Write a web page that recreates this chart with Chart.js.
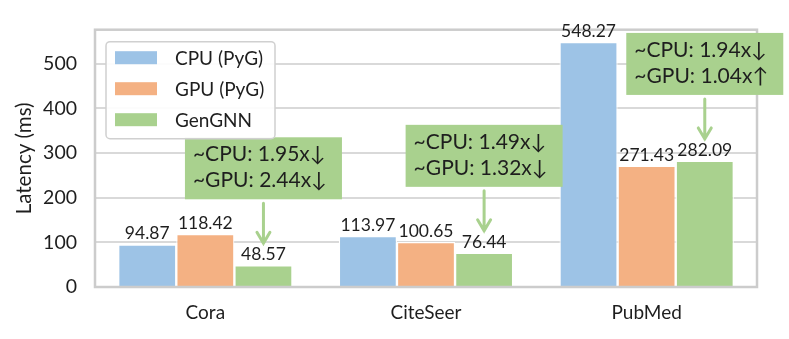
<!DOCTYPE html>
<html lang="en">
<head>
<meta charset="UTF-8">
<title>Latency</title>
<script src="https://cdn.jsdelivr.net/npm/chart.js"></script>
<style>
  html, body { margin: 0; padding: 0; background: #fff; }
  #wrap { width: 789px; height: 339px; position: relative; }
</style>
</head>
<body>
<div id="wrap"><canvas id="chart"></canvas></div>
<script>
// data
const categories = ['Cora', 'CiteSeer', 'PubMed'];
const seriesNames = ['CPU (PyG)', 'GPU (PyG)', 'GenGNN'];
const cpuValues = [94.87, 113.97, 548.27];
const gpuValues = [118.42, 100.65, 271.43];
const genValues = [48.57, 76.44, 282.09];
const yTicks = [0, 100, 200, 300, 400, 500];
const yMax = 575.7;
// speedup notes, one per category, pointing at the GenGNN bar
const speedupNotes = [
  ['~CPU: 1.95x\u2193', '~GPU: 2.44x\u2193'],
  ['~CPU: 1.49x\u2193', '~GPU: 1.32x\u2193'],
  ['~CPU: 1.94x\u2193', '~GPU: 1.04x\u2191']
];

const colors = ['#9dc3e6', '#f4b183', '#a9d18e'];
const textColor = '#1e1e1e';
const fontFamily = 'Lato, "Open Sans", sans-serif';

// frame around the plot
const framePlugin = {
  id: 'frame',
  afterDatasetsDraw(chart) {
    const { ctx, chartArea: a } = chart;
    ctx.save();
    ctx.strokeStyle = '#cccccc';
    ctx.lineWidth = 2.5;
    ctx.strokeRect(a.left, a.top, a.right - a.left, a.bottom - a.top);
    ctx.restore();
  }
};

// value labels on top of bars
const labelPlugin = {
  id: 'barLabels',
  afterDatasetsDraw(chart) {
    const { ctx } = chart;
    ctx.save();
    ctx.font = '17.5px ' + fontFamily;
    ctx.fillStyle = textColor;
    ctx.textAlign = 'center';
    ctx.textBaseline = 'bottom';
    chart.data.datasets.forEach((ds, di) => {
      chart.getDatasetMeta(di).data.forEach((bar, i) => {
        ctx.fillText(ds.data[i].toFixed(2), bar.x, bar.y - 2);
      });
    });
    ctx.restore();
  }
};

// green note boxes with arrows
const notePlugin = {
  id: 'notes',
  afterDraw(chart) {
    const { ctx } = chart;
    const meta = chart.getDatasetMeta(2);
    ctx.save();
    speedupNotes.forEach((lines, i) => {
      const bar = meta.data[i];
      const tipY = bar.y - 22;
      const boxBottom = bar.y - 66;
      const boxH = 62, boxW = 157;
      const boxLeft = bar.x - boxW / 2;
      ctx.fillStyle = '#a9d18e';
      ctx.fillRect(boxLeft, boxBottom - boxH, boxW, boxH);
      ctx.fillStyle = textColor;
      ctx.font = '21px ' + fontFamily;
      ctx.textAlign = 'left';
      ctx.textBaseline = 'middle';
      ctx.fillText(lines[0], boxLeft + 8, boxBottom - boxH + 17);
      ctx.fillText(lines[1], boxLeft + 8, boxBottom - boxH + 43);
      // arrow
      ctx.strokeStyle = '#a9d18e';
      ctx.lineWidth = 3;
      ctx.lineCap = 'round';
      ctx.beginPath();
      ctx.moveTo(bar.x, boxBottom + 4);
      ctx.lineTo(bar.x, tipY);
      ctx.moveTo(bar.x - 6.5, tipY - 11);
      ctx.lineTo(bar.x, tipY);
      ctx.lineTo(bar.x + 6.5, tipY - 11);
      ctx.stroke();
    });
    ctx.restore();
  }
};

// legend inside the plot, top left
const legendPlugin = {
  id: 'innerLegend',
  afterDraw(chart) {
    const { ctx, chartArea: a } = chart;
    const x = a.left + 11, y = a.top + 12, w = 169, h = 97;
    ctx.save();
    ctx.fillStyle = 'rgba(255,255,255,0.9)';
    ctx.strokeStyle = '#d0d0d0';
    ctx.lineWidth = 1.5;
    ctx.beginPath();
    ctx.roundRect(x, y, w, h, 4);
    ctx.fill();
    ctx.stroke();
    ctx.font = '19px ' + fontFamily;
    ctx.textBaseline = 'middle';
    ctx.textAlign = 'left';
    chart.data.datasets.forEach((ds, i) => {
      const rowY = y + 16 + i * 31;
      ctx.fillStyle = ds.backgroundColor;
      ctx.fillRect(x + 9, rowY - 6.5, 42, 13);
      ctx.fillStyle = textColor;
      ctx.fillText(ds.label, x + 69, rowY + 1);
    });
    ctx.restore();
  }
};

const valueSets = [cpuValues, gpuValues, genValues];

new Chart(document.getElementById('chart'), {
  type: 'bar',
  data: {
    labels: categories,
    datasets: seriesNames.map((name, i) => ({
      label: name,
      data: valueSets[i],
      backgroundColor: colors[i],
      borderColor: '#ffffff',
      borderWidth: 1.2,
      borderSkipped: 'start',
      categoryPercentage: 0.79,
      barPercentage: 1.0
    }))
  },
  options: {
    responsive: true,
    maintainAspectRatio: false,
    animation: false,
    layout: { padding: { left: 0, right: 32, top: 17, bottom: 0 } },
    plugins: {
      legend: { display: false },
      tooltip: { enabled: false }
    },
    scales: {
      x: {
        grid: { display: false, drawTicks: false },
        border: { display: false },
        ticks: { color: textColor, font: { family: fontFamily, size: 19 }, padding: 14 },
        afterFit(scale) { scale.height = 52; }
      },
      y: {
        min: 0,
        max: yMax,
        afterBuildTicks(scale) { scale.ticks = yTicks.map(v => ({ value: v })); },
        grid: { color: '#d9d9d9', lineWidth: 2, drawTicks: false },
        border: { display: false },
        ticks: { color: textColor, font: { family: fontFamily, size: 19.5 }, padding: 18 },
        title: {
          display: true,
          text: 'Latency (ms)',
          color: textColor,
          font: { family: fontFamily, size: 20.5 },
          padding: { top: 12, bottom: 0 }
        },
        afterFit(scale) { scale.width = 95; }
      }
    }
  },
  plugins: [framePlugin, labelPlugin, notePlugin, legendPlugin]
});
</script>
</body>
</html>
